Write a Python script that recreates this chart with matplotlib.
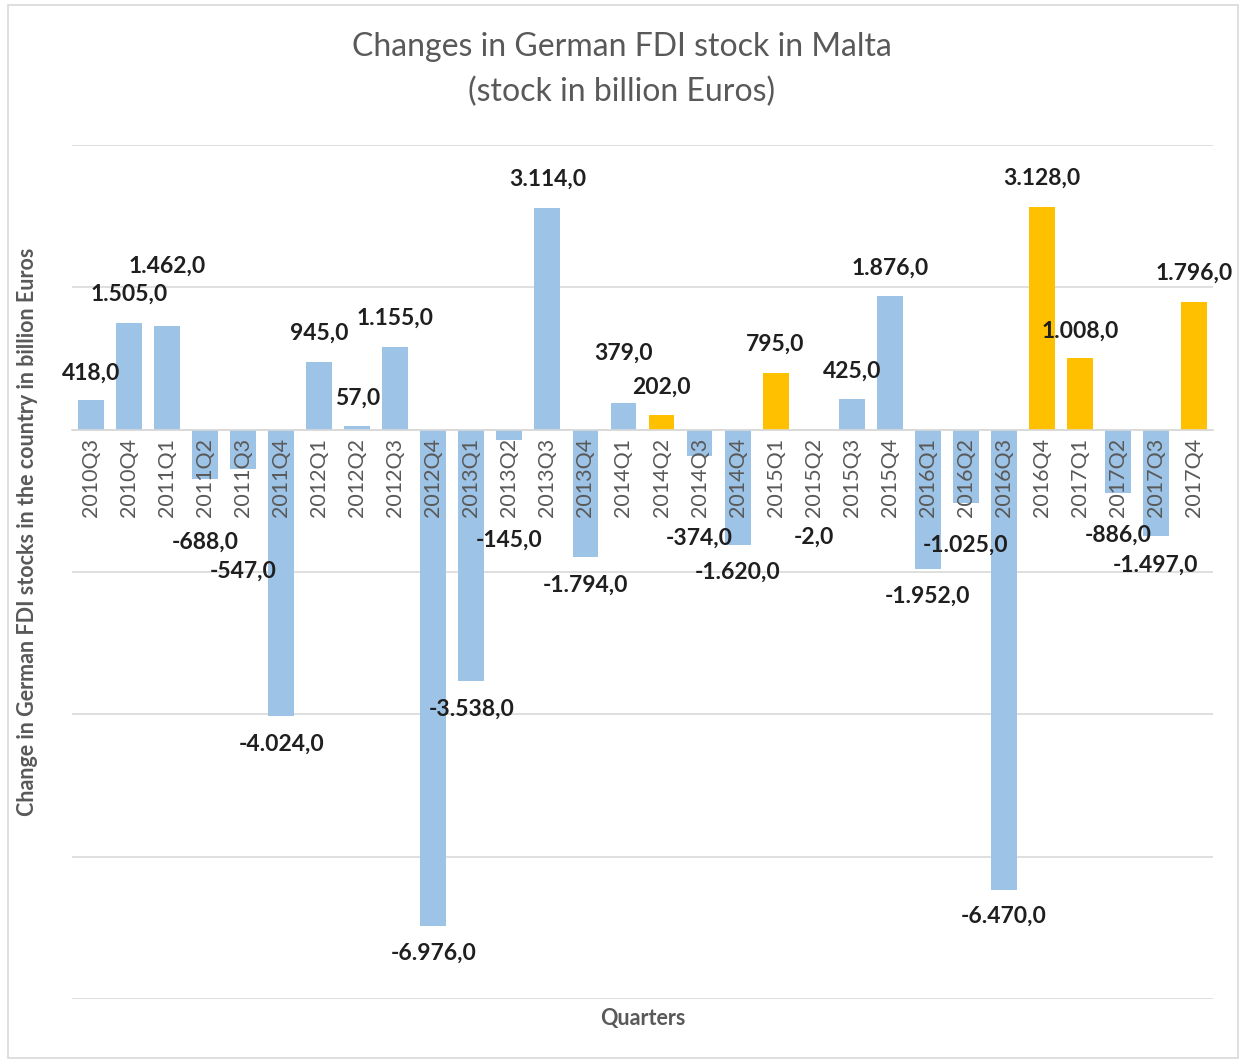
import matplotlib
matplotlib.use("Agg")
import matplotlib.pyplot as plt
from matplotlib.patches import Rectangle

plt.rcParams["font.family"] = ["Lato", "DejaVu Sans"]

quarters = [
    "2010Q3", "2010Q4", "2011Q1", "2011Q2", "2011Q3", "2011Q4",
    "2012Q1", "2012Q2", "2012Q3", "2012Q4", "2013Q1", "2013Q2",
    "2013Q3", "2013Q4", "2014Q1", "2014Q2", "2014Q3", "2014Q4",
    "2015Q1", "2015Q2", "2015Q3", "2015Q4", "2016Q1", "2016Q2",
    "2016Q3", "2016Q4", "2017Q1", "2017Q2", "2017Q3", "2017Q4",
]
changes = [
    418, 1505, 1462, -688, -547, -4024,
    945, 57, 1155, -6976, -3538, -145,
    3114, -1794, 379, 202, -374, -1620,
    795, -2, 425, 1876, -1952, -1025,
    -6470, 3128, 1008, -886, -1497, 1796,
]
highlighted = ["2014Q2", "2015Q1", "2016Q4", "2017Q1", "2017Q4"]

# where the value labels sit (data units), moved by hand in the original
label_y = [
    800, 1900, 2300, -1580, -1990, -4420,
    1350, 440, 1560, -7350, -3930, -1550,
    3520, -2180, 1080, 590, -1520, -2000,
    1200, -1510, 820, 2270, -2340, -1620,
    -6840, 3540, 1390, -1480, -1900, 2200,
]

BLUE = "#9DC3E6"
ORANGE = "#FFC000"
GREY = "#595959"


def fmt(v):
    s = f"{abs(v):,}".replace(",", ".") + ",0"
    return ("-" if v < 0 else "") + s


fig = plt.figure(figsize=(12.44, 10.61), dpi=100)
ax = fig.add_axes([72 / 1244, 1 - 999 / 1061, 1141 / 1244, 854 / 1061])

x = range(len(quarters))
colors = [ORANGE if q in highlighted else BLUE for q in quarters]
ax.bar(x, changes, width=0.68, color=colors, zorder=2)

ax.set_xlim(-0.5, len(quarters) - 0.5)
ax.set_ylim(-8000, 4000)
ax.set_yticks(range(-8000, 4001, 2000))
ax.yaxis.grid(True, color="#d9d9d9", linewidth=1.2, zorder=0)
ax.tick_params(axis="y", length=0, labelleft=False)

for s in ["top", "right", "left"]:
    ax.spines[s].set_visible(False)
ax.spines["bottom"].set_position(("data", 0))
ax.spines["bottom"].set_color("#d9d9d9")
ax.spines["bottom"].set_linewidth(1.2)
ax.set_xticks(list(x))
ax.set_xticklabels(quarters, rotation=90, color=GREY, fontsize=15.5)
ax.tick_params(axis="x", length=0, pad=6)
ax.xaxis.set_zorder(3)

for i, v in enumerate(changes):
    ax.text(i, label_y[i], fmt(v), ha="center", va="center",
            fontsize=16.5, fontweight="bold", color="#1f1f1f", zorder=4)

fig.text(0.5, 1 - 47 / 1061, "Changes in German FDI stock in Malta",
         ha="center", va="center", fontsize=23, color=GREY)
fig.text(0.5, 1 - 92 / 1061, "(stock in billion Euros)",
         ha="center", va="center", fontsize=23, color=GREY)
fig.text(28 / 1244, 1 - 532 / 1061,
         "Change in German FDI stocks in the country in billion Euros",
         rotation=90, ha="center", va="center", fontsize=15.5,
         fontweight="bold", color=GREY)
fig.text(643 / 1244, 1 - 1018 / 1061, "Quarters", ha="center", va="center",
         fontsize=15.5, fontweight="bold", color=GREY)

fig.patches.append(Rectangle((8 / 1244, 3 / 1061), 1230 / 1244, 1053 / 1061,
                             transform=fig.transFigure, fill=False,
                             edgecolor="#d9d9d9", linewidth=1.2))

fig.savefig("out.png", dpi=100, facecolor="white")
